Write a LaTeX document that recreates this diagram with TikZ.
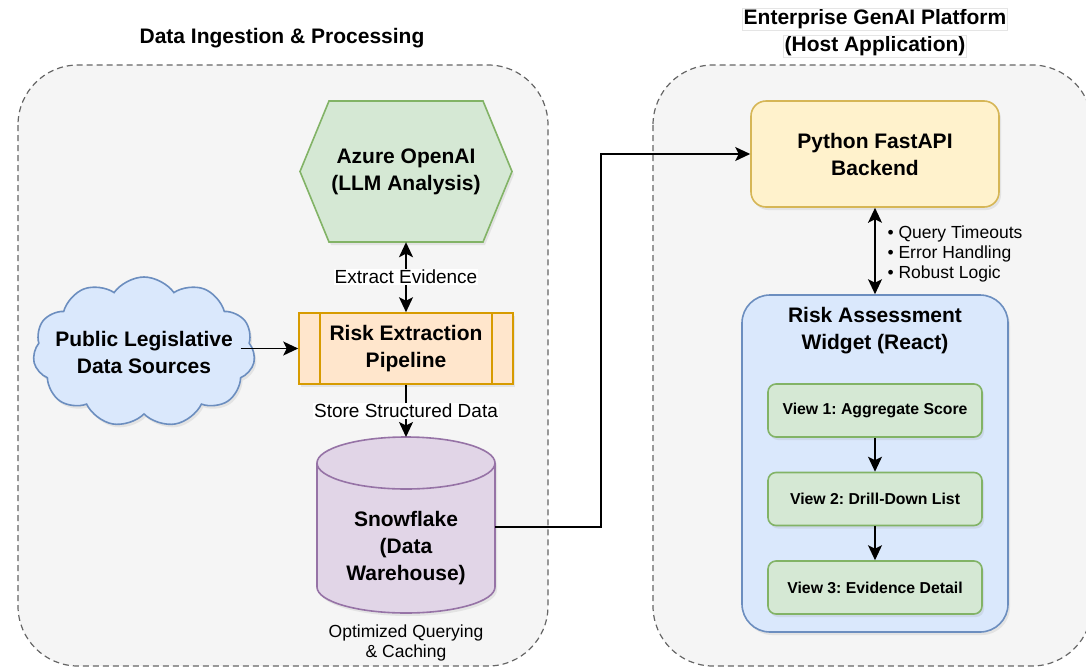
\documentclass[tikz,border=0pt]{standalone}
\usepackage{fontspec}
\setmainfont{Liberation Sans}
\usetikzlibrary{arrows.meta}
\usetikzlibrary{positioning}
\usetikzlibrary{shapes.symbols}
\usetikzlibrary{shadows}
\definecolor{mgrey}{HTML}{F5F5F5}
\definecolor{mgreyline}{HTML}{666666}
\definecolor{mgreen}{HTML}{D5E8D4}
\definecolor{mgreenline}{HTML}{82B366}
\definecolor{mblue}{HTML}{DAE8FC}
\definecolor{mblueline}{HTML}{6C8EBF}
\definecolor{morange}{HTML}{FFE6CC}
\definecolor{morangeline}{HTML}{D79B00}
\definecolor{mpurple}{HTML}{E1D5E7}
\definecolor{mpurpleline}{HTML}{9673A6}
\definecolor{myellow}{HTML}{FFF2CC}
\definecolor{myellowline}{HTML}{D6B656}
\newcommand{\tagbox}[1]{{\setlength{\fboxsep}{1pt}\fcolorbox{black!10}{white}{#1}}}
\tikzset{dshadow/.style = {drop shadow = {shadow xshift = 2pt, shadow yshift = -3pt, opacity = 0.15}}}
\tikzset{grp/.style = {draw = mgreyline, fill = mgrey, line width = 1.2pt, dash pattern = on 6pt off 4pt, rounded corners = 60pt}}
\tikzset{bold/.style = {font = \bfseries\fontsize{21}{27}\selectfont, align = center}}
\tikzset{lbl/.style = {font = \fontsize{19}{22}\selectfont, fill = white, inner sep = 1pt}}
\tikzset{note/.style = {font = \fontsize{17.5}{20}\selectfont, align = center}}
\tikzset{arr/.style = {line width = 1.7pt, ->}}
\tikzset{box/.style = {bold, line width = 1.6pt, inner sep = 0, dshadow}}
\tikzset{view/.style = {box, font = \bfseries\fontsize{15.8}{19}\selectfont, draw = mgreenline, fill = mgreen, rounded corners = 8pt, minimum width = 214pt, minimum height = 53pt}}

\begin{document}
\frenchspacing
\begin{tikzpicture}[x = 1pt, y = 1pt, >={Stealth[length = 15pt, width = 14pt, inset = 3.5pt]}]
  \useasboundingbox (0, 0) rectangle (1086, -667);
  \draw [grp] (18, -65) rectangle (548, -666);
  \draw [grp] (653, -65) rectangle (1092, -666);
  \node [bold] (ttlleft) at (282, -38) {Data Ingestion \& Processing};
  \node [bold] (ttlright) at (875, -33) {\tagbox{Enterprise GenAI Platform}\\\tagbox{(Host Application)}};

  % ingestion side
  \draw [draw = mgreenline, fill = mgreen, line width = 1.6pt, dshadow] (300, -171.5) -- (329, -101) -- (483, -101) -- (512, -171.5) -- (483, -242) -- (329, -242) -- cycle;
  \node [bold, minimum width = 212pt, minimum height = 141pt] (llm) at (406, -171.5) {Azure OpenAI\\(LLM Analysis)};
  \node [cloud, cloud puffs = 11, cloud puff arc = 110, aspect = 1.6, draw = mblueline, fill = mblue, line width = 1.6pt, minimum width = 222pt, minimum height = 150pt, dshadow, label = {[bold]center:Public Legislative\\Data Sources}] (src) at (144, -352) {};
  \node [box, draw = morangeline, fill = morange, minimum width = 214pt, minimum height = 71pt] (pipe) at (406, -348.5) {Risk Extraction\\Pipeline};
  \draw [morangeline, line width = 1.6pt] ([xshift = 22pt] pipe.north west) -- ([xshift = 22pt] pipe.south west);
  \draw [morangeline, line width = 1.6pt] ([xshift = -22pt] pipe.north east) -- ([xshift = -22pt] pipe.south east);
  \filldraw [draw = mpurpleline, fill = mpurple, line width = 1.6pt, dshadow] (317, -463) -- (317, -587) arc [start angle = 180, end angle = 360, x radius = 89, y radius = 26] -- (495, -463) arc [start angle = 0, end angle = 180, x radius = 89, y radius = 26] -- cycle;
  \draw [mpurpleline, line width = 1.6pt] (317, -463) arc [start angle = 180, end angle = 360, x radius = 89, y radius = 26];
  \node [bold] (sf) at (406, -548) {Snowflake\\(Data\\Warehouse)};
  \coordinate (sftop) at (406, -437);
  \coordinate (sfout) at (495, -527);
  \node [note] (cache) at (406, -642.5) {Optimized Querying\\\& Caching};

  \draw [arr] ([xshift = -14pt] src.east |- pipe.west) -- (pipe.west);
  \draw [arr, <->] (pipe) -- node [lbl] {Extract Evidence} (llm);
  \draw [arr] (pipe) -- node [lbl] {Store Structured Data} (sftop);

  % host side
  \node [box, draw = myellowline, fill = myellow, rounded corners = 15pt, minimum width = 248pt, minimum height = 106pt] (be) at (875, -154) {Python FastAPI\\Backend};
  \node [box, draw = mblueline, fill = mblue, rounded corners = 28pt, minimum width = 266pt, minimum height = 337pt] (wid) at (875, -463.5) {};
  \node [bold] (widttl) at ([yshift = -36pt] wid.north) {Risk Assessment\\Widget (React)};
  \foreach \i/\t in {1/Aggregate Score, 2/Drill-Down List, 3/Evidence Detail} {
    \node [view] (v\i) at (875, -322 - 88.5*\i) {View \i: \t};
  }
  \foreach \i/\j in {1/2, 2/3} {
    \draw [arr] (v\i) -- (v\j);
  }
  \draw [arr, <->] (be) -- (wid);
  \node [note, align = left, anchor = west] (fixes) at (884, -253.5) {\textbullet{} Query Timeouts\\\textbullet{} Error Handling\\\textbullet{} Robust Logic};

  \draw [arr] (sfout) -- ++(106, 0) |- (be);
\end{tikzpicture}
\end{document}
